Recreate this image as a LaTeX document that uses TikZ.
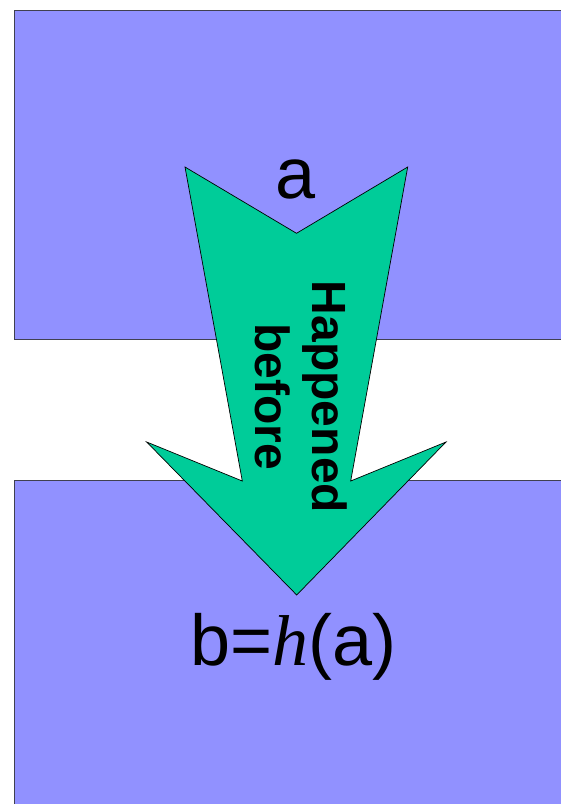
\documentclass[tikz,border=0pt]{standalone}
\usepackage{fontspec}
\setmainfont{Liberation Sans}
\newfontfamily\hfont{Liberation Serif}
\usepackage{tikz}
\definecolor{setblue}{RGB}{145,145,255}
\definecolor{setedge}{RGB}{64,64,80}
\definecolor{arrowgreen}{RGB}{0,204,153}

\tikzset{
  setedgeline/.style={draw=setedge,line width=0.9pt},
  biglabel/.style={inner sep=0pt,font=\fontsize{72}{86}\selectfont},
}

\begin{document}
\begin{tikzpicture}[x=1pt,y=-1pt]
\useasboundingbox (0,0) rectangle (561,804);
\clip (0,0) rectangle (561,804);

% conjuntos
\fill[setblue] (14.7,10.7) rectangle (575,339.3);
\draw[setedgeline] (575,10.7) -- (14.7,10.7) -- (14.7,339.3) -- (575,339.3);
\fill[setblue] (14.7,480) rectangle (575,820);
\draw[setedgeline] (575,480) -- (14.7,480) -- (14.7,820);

% flecha
\draw[fill=arrowgreen,draw=black,line width=0.7pt]
  (185,167) -- (296.5,233.3) -- (407.7,167) -- (350.7,481) -- (446,442)
  -- (296.7,595) -- (146.7,442) -- (242.3,481) -- cycle;

% etiquetas
\node[biglabel,anchor=base] (a) at (296,198) {a};
\node[biglabel,anchor=base] (b) at (293.5,665) {b=\hfont\itshape h\normalfont(a)};
\node[rotate=-90,align=center,inner sep=0pt,
  font=\fontsize{48}{57}\selectfont\bfseries] (hb) at (301,397) {Happened\\before};

\end{tikzpicture}
\end{document}
